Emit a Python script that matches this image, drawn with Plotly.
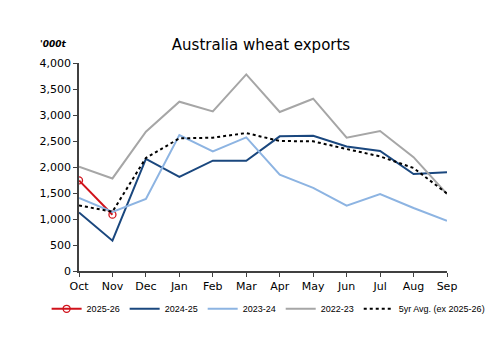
import plotly.graph_objects as go

months = ["Oct", "Nov", "Dec", "Jan", "Feb", "Mar", "Apr", "May", "Jun", "Jul", "Aug", "Sep"]
s2025_26 = [1742, 1083]
s2024_25 = [1127, 583, 2154, 1808, 2121, 2121, 2590, 2600, 2396, 2308, 1865, 1897]
s2023_24 = [1404, 1135, 1385, 2615, 2300, 2570, 1852, 1600, 1256, 1481, 1212, 967]
s2022_23 = [2005, 1780, 2680, 3256, 3070, 3781, 3058, 3313, 2563, 2692, 2190, 1480]
avg5 = [1262, 1140, 2175, 2550, 2563, 2653, 2500, 2493, 2346, 2204, 1981, 1490]
yticks = [0, 500, 1000, 1500, 2000, 2500, 3000, 3500, 4000]

FONT = "DejaVu Sans"
fig = go.Figure()
fig.add_trace(go.Scatter(x=months[:len(s2025_26)], y=s2025_26, name="2025-26", mode="lines+markers",
                         line=dict(color="#D0121B", width=2),
                         marker=dict(symbol="circle-open", size=7, color="#D0121B", line=dict(width=1.3))))
fig.add_trace(go.Scatter(x=months, y=s2024_25, name="2024-25", mode="lines",
                         line=dict(color="#1A477E", width=2)))
fig.add_trace(go.Scatter(x=months, y=s2023_24, name="2023-24", mode="lines",
                         line=dict(color="#8DB4E2", width=2)))
fig.add_trace(go.Scatter(x=months, y=s2022_23, name="2022-23", mode="lines",
                         line=dict(color="#A6A6A6", width=2)))
fig.add_trace(go.Scatter(x=months, y=avg5, name="5yr Avg. (ex 2025-26)", mode="lines",
                         line=dict(color="#000000", width=2, dash="dot")))

fig.update_layout(
    width=500, height=353,
    margin=dict(l=79, r=53, t=63, b=82, autoexpand=False),
    paper_bgcolor="white", plot_bgcolor="white",
    font=dict(family=FONT, size=11, color="#000000"),
    title=dict(text="Australia wheat exports", x=0.522, xanchor="center", y=0.872, yanchor="middle",
               font=dict(family=FONT, size=15, color="#000000")),
    showlegend=True,
    legend=dict(orientation="h", x=-0.088, xanchor="left", y=-0.112, yanchor="top",
                bgcolor="rgba(0,0,0,0)",
                font=dict(family="Liberation Sans", size=9), itemwidth=30, tracegroupgap=0),
    xaxis=dict(type="category", categoryorder="array", categoryarray=months,
               range=[0, 11], showline=True, linecolor="#404040", linewidth=1.5,
               ticks="outside", ticklen=4, tickcolor="#404040", showgrid=False,
               tickfont=dict(size=11)),
    yaxis=dict(range=[0, 4000], tickvals=yticks, tickformat=",", showline=True,
               linecolor="#404040", linewidth=1.5, ticks="outside", ticklen=4,
               tickcolor="#404040", showgrid=False, zeroline=False, tickfont=dict(size=11)),
    annotations=[dict(text="<i><b>'000t</b></i>", xref="paper", yref="paper", x=-0.111, y=1.09,
                      xanchor="left", yanchor="middle", showarrow=False,
                      font=dict(family=FONT, size=9))],
)
fig.write_html("out.html")
